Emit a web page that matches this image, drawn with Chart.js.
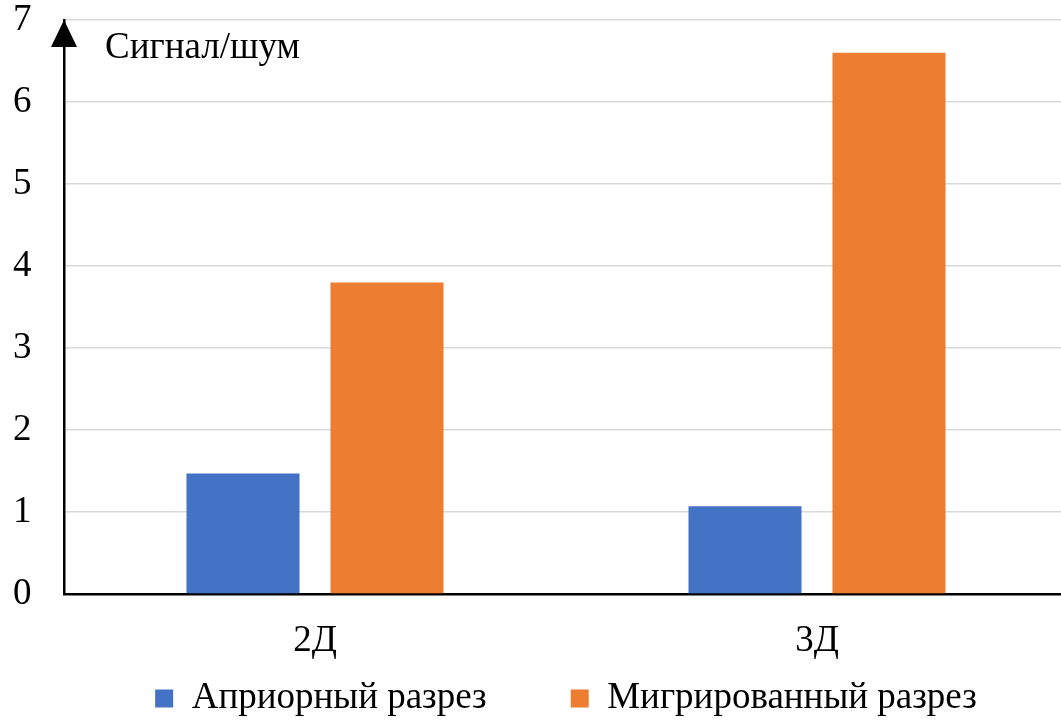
<!DOCTYPE html>
<html lang="ru">
<head>
<meta charset="utf-8">
<title>Сигнал/шум</title>
<script src="https://cdn.jsdelivr.net/npm/chart.js@4/dist/chart.umd.min.js"></script>
<style>
  html, body { margin: 0; padding: 0; background: #ffffff; overflow: hidden; }
  /* the plot runs a few pixels past the right edge of the frame */
  #wrap { width: 1061px; height: 722px; position: relative; overflow: hidden; }
  #chart { display: block; }
</style>
</head>
<body>
<div id="wrap"><canvas id="chart" width="1068" height="722"></canvas></div>
<script>
// Categories and series
const categories = ['2Д', '3Д'];
const aprioriValues = [1.47, 1.07];
const migratedValues = [3.8, 6.6];
const seriesNames = ['Априорный разрез', 'Мигрированный разрез'];
const yTicks = [0, 1, 2, 3, 4, 5, 6, 7];
const yAxisTitle = 'Сигнал/шум';

const SERIF = '"Liberation Serif", "Times New Roman", serif';
const FONT_SIZE = 37;

// Arrowhead on the top of the value axis plus the axis caption
const axisArrow = {
  id: 'axisArrow',
  afterDraw(chart) {
    const { ctx, chartArea } = chart;
    const x = chartArea.left;
    const top = chartArea.top;
    ctx.save();
    ctx.fillStyle = '#000000';
    ctx.beginPath();
    ctx.moveTo(x, top);
    ctx.lineTo(x - 13, top + 27);
    ctx.lineTo(x + 13, top + 27);
    ctx.closePath();
    ctx.fill();
    ctx.font = FONT_SIZE + 'px ' + SERIF;
    ctx.textBaseline = 'alphabetic';
    ctx.textAlign = 'left';
    ctx.fillText(yAxisTitle, x + 41, top + 38);
    ctx.restore();
  }
};

new Chart(document.getElementById('chart'), {
  type: 'bar',
  data: {
    labels: categories,
    datasets: [
      { label: seriesNames[0], data: aprioriValues, backgroundColor: '#4472C4' },
      { label: seriesNames[1], data: migratedValues, backgroundColor: '#ED7D31' }
    ]
  },
  options: {
    responsive: false,
    animation: false,
    devicePixelRatio: 1,
    layout: { autoPadding: false, padding: { top: 20, right: 0, left: 13, bottom: 5 } },
    datasets: {
      bar: { barPercentage: 0.785, categoryPercentage: 0.5737 }
    },
    scales: {
      x: {
        afterFit(scale) { scale.height = 76; },
        grid: { display: false, drawTicks: false },
        border: { display: true, color: '#000000', width: 2.5 },
        ticks: {
          color: '#000000',
          font: { family: SERIF, size: FONT_SIZE },
          padding: 25
        }
      },
      y: {
        min: 0,
        max: 7,
        afterBuildTicks(scale) { scale.ticks = yTicks.map(v => ({ value: v })); },
        afterFit(scale) { scale.width = 51; },
        grid: { color: '#d9d9d9', lineWidth: 1.5, drawTicks: false },
        border: { display: true, color: '#000000', width: 2.5 },
        ticks: {
          color: '#000000',
          font: { family: SERIF, size: FONT_SIZE, lineHeight: 1 },
          crossAlign: 'far',
          padding: 0
        }
      }
    },
    plugins: {
      legend: {
        position: 'bottom',
        fullSize: false,
        maxHeight: 47,
        labels: {
          color: '#000000',
          font: { family: SERIF, size: FONT_SIZE },
          boxWidth: 18,
          boxHeight: 18,
          padding: 10,
          generateLabels(chart) {
            const items = Chart.defaults.plugins.legend.labels.generateLabels(chart);
            // widen the gap after every entry but the last
            items.forEach((item, i) => {
              if (i < items.length - 1) item.text = item.text + '        ';
              item.lineWidth = 0;
            });
            return items;
          }
        }
      },
      tooltip: { enabled: false }
    }
  },
  plugins: [axisArrow]
});
</script>
</body>
</html>
